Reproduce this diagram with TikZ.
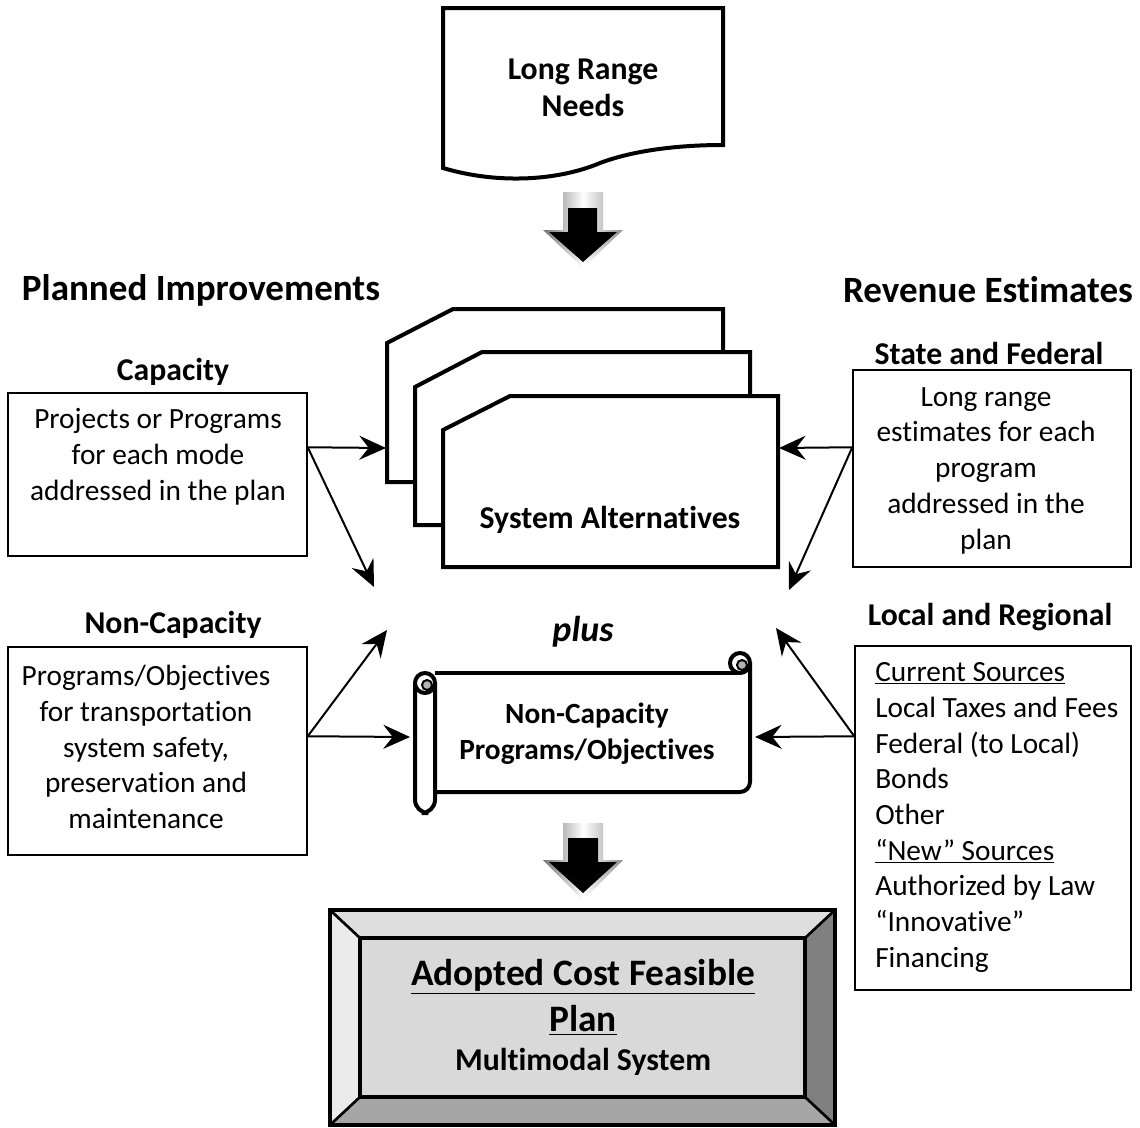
\documentclass[tikz,border=0pt]{standalone}
\usepackage{fontspec}
\setmainfont[RawFeature=-liga]{Carlito}
\usetikzlibrary{arrows.meta,calc}
\begin{document}
\begin{tikzpicture}[x=0.75pt,y=-0.75pt,
  box/.style={draw=black, line width=1.1pt, fill=white, inner sep=0pt},
  heavy/.style={draw=black, line width=3pt, line join=miter, fill=white},
  conn/.style={line width=1.5pt, -{Stealth[length=20pt,width=18pt,inset=7pt]}},
  txt/.style={font=\fontsize{22}{26.8}\selectfont, align=center, inner sep=0pt},
  btxt/.style={font=\fontsize{23.8}{26.8}\selectfont\bfseries, align=center, inner sep=0pt},
  bigtxt/.style={font=\fontsize{27.8}{32}\selectfont\bfseries, inner sep=0pt},
  gradarrow/.style={left color=black!55, right color=black!45, middle color=white},
]
\useasboundingbox (0,0) rectangle (1140,1128);

% ---- Long range needs (document shape)
\draw[heavy] (443,8) -- (723,8) -- (723,145)
  .. controls (690,145) and (640,148) .. (600,163)
  .. controls (560,180) and (500,185) .. (443,168) -- cycle;
\node[btxt, font=\fontsize{23.8}{27.8}\selectfont\bfseries] (lrn) at (583,88) {Long Range\\Needs};

% ---- big arrow 1
\shade[gradarrow] (543,230) -- (563,230) -- (563,192) -- (603,192) -- (603,230) -- (623,230) -- (583,268) -- cycle;
\fill[black] (549,232) -- (568,232) -- (568,208) -- (597,208) -- (597,232) -- (617,232) -- (583,262) -- cycle;

% ---- headings
\node[bigtxt] (planned) at (201,290) {Planned Improvements};
\node[bigtxt] (revenue) at (988,290) {Revenue Estimates};

% ---- System alternatives stack
\draw[heavy] (387,343) -- (453,309) -- (723,309) -- (723,482) -- (387,482) -- cycle;
\draw[heavy] (415,387) -- (482,352) -- (750,352) -- (750,525) -- (415,525) -- cycle;
\draw[heavy] (443,430) -- (510,396) -- (778,396) -- (778,567) -- (443,567) -- cycle;
\node[btxt] (sysalt) at (610,520) {System Alternatives};

% ---- left boxes
\node[btxt] (caph) at (173,372) {Capacity};
\node[box, minimum width=299*0.75pt, minimum height=163*0.75pt] (capbox) at (157.5,474.5) {};
\node[txt] (captxt) at (158,457) {Projects or Programs\\for each mode\\addressed in the plan};

\node[btxt] (ncaph) at (173,625) {Non-Capacity};
\node[box, minimum width=299*0.75pt, minimum height=208*0.75pt] (ncapbox) at (157.5,751) {};
\node[txt] (ncaptxt) at (146,747) {Programs/Objectives\\for transportation\\system safety,\\preservation and\\maintenance};

% ---- right boxes
\node[btxt] (sfh) at (989,353) {State and Federal};
\node[box, minimum width=278*0.75pt, minimum height=197*0.75pt] (sfbox) at (992,468.5) {};
\node[txt] (sftxt) at (986,470.5) {Long range\\estimates for each\\program\\addressed in the\\plan};

\node[btxt] (lrh) at (990,617) {Local and Regional};
\node[box, minimum width=276*0.75pt, minimum height=344*0.75pt] (lrbox) at (993,818) {};
\node[txt, anchor=west, align=left] (lrtxt) at (875,817.5) {\underline{Current Sources}\\Local Taxes and Fees\\Federal (to Local)\\Bonds\\Other\\\underline{“New” Sources}\\Authorized by Law\\“Innovative”\\Financing};

% ---- plus
\node[btxt, font=\fontsize{27}{30}\selectfont\bfseries\itshape] (plus) at (583,632) {plus};

% ---- scroll
\fill[white] (436,675) rectangle (748,790);
\draw[line width=3pt] (435,673) -- (738,673);
\draw[line width=3pt] (750,662) -- (750,782) arc (0:90:10) -- (435,792);
\draw[line width=3pt, fill=white] (740,663) circle (10);
\draw[line width=1.5pt, fill=black!30] (742,665) circle (5);
\draw[heavy, rounded corners=10] (415,683) -- (415,813) -- (435,813) -- (435,683);
\draw[line width=3pt, fill=white] (425,683) circle (10);
\draw[line width=1.5pt, fill=black!30] (427,685) circle (5);
\node[txt, font=\fontsize{22}{26.8}\selectfont\bfseries] (ncprog) at (587,734) {Non-Capacity\\Programs/Objectives};

% ---- big arrow 2
\shade[gradarrow] (543,860) -- (563,860) -- (563,823) -- (603,823) -- (603,860) -- (623,860) -- (583,900) -- cycle;
\fill[black] (549,862) -- (568,862) -- (568,838) -- (598,838) -- (598,862) -- (617,862) -- (583,893) -- cycle;

% ---- bevel box
\fill[black!13] (330,910) -- (835,910) -- (805,938) -- (360,938) -- cycle;
\fill[black!8] (330,910) -- (360,938) -- (360,1097) -- (330,1125) -- cycle;
\fill[black!50] (835,910) -- (805,938) -- (805,1097) -- (835,1125) -- cycle;
\fill[black!35] (330,1125) -- (360,1097) -- (805,1097) -- (835,1125) -- cycle;
\fill[black!15] (360,938) rectangle (805,1097);
\draw[line width=3pt] (330,910) rectangle (835,1125);
\draw[line width=3pt] (360,938) rectangle (805,1097);
\draw[line width=2pt] (330,910) -- (360,938) (835,910) -- (805,938) (330,1125) -- (360,1097) (835,1125) -- (805,1097);
\node[bigtxt, font=\fontsize{28}{33}\selectfont\bfseries, align=center] (adopted) at (583,997) {\underline{Adopted Cost Feasible}\\[2pt]\underline{Plan}};
\node[btxt] (multi) at (583,1062) {Multimodal System};

% ---- connectors
\coordinate (capOut) at ($(capbox.north east)+(0,55)$);
\coordinate (ncapOut) at ($(ncapbox.north east)+(0,90)$);
\coordinate (sfOut) at ($(sfbox.north west)+(0,78)$);
\coordinate (lrOut) at ($(lrbox.north west)+(0,91)$);
\coordinate (sysL) at (386,448);
\coordinate (sysR) at (779,448);
\coordinate (midL1) at (374,587);
\coordinate (midL2) at (387,630);
\coordinate (midR1) at (789,590);
\coordinate (midR2) at (776,628);
\coordinate (scrL) at (410,737);
\coordinate (scrR) at (755,737);
\draw[conn] (capOut) -- (sysL);
\draw[conn] (capOut) -- (midL1);
\draw[conn] (ncapOut) -- (midL2);
\draw[conn] (ncapOut) -- (scrL);
\draw[conn] (sfOut) -- (sysR);
\draw[conn] (sfOut) -- (midR1);
\draw[conn] (lrOut) -- (midR2);
\draw[conn] (lrOut) -- (scrR);
\end{tikzpicture}
\end{document}
